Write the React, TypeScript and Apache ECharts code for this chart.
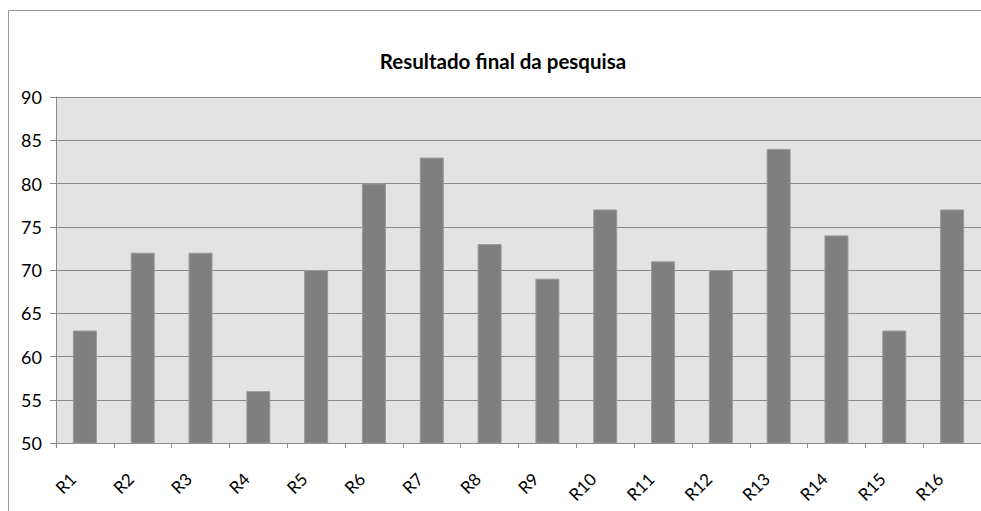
import React, { useEffect, useRef } from "react";
import * as echarts from "echarts";

const categories = ["R1", "R2", "R3", "R4", "R5", "R6", "R7", "R8", "R9", "R10", "R11", "R12", "R13", "R14", "R15", "R16"];
const values = [63, 72, 72, 56, 70, 80, 83, 73, 69, 77, 71, 70, 84, 74, 63, 77];
const titleText = "Resultado final da pesquisa";

export default function App() {
  const ref = useRef<HTMLDivElement>(null);
  useEffect(() => {
    if (!ref.current) return;
    const chart = echarts.init(ref.current, null, { renderer: "svg" });
    const font = "Lato, 'Open Sans', sans-serif";
    chart.setOption({
      animation: false,
      backgroundColor: "#ffffff",
      title: {
        text: titleText,
        left: 498,
        textAlign: "center",
        top: 45,
        textStyle: { fontFamily: font, fontSize: 20.5, fontWeight: "bold", color: "#000" },
      },
      graphic: [
        {
          type: "line",
          shape: { x1: 8.5, y1: 10.5, x2: 981, y2: 10.5 },
          style: { stroke: "#9a9a9a", lineWidth: 1 },
          silent: true,
        },
        {
          type: "line",
          shape: { x1: 8.5, y1: 10.5, x2: 8.5, y2: 511 },
          style: { stroke: "#9a9a9a", lineWidth: 1 },
          silent: true,
        },
      ],
      grid: {
        left: 56,
        top: 97,
        right: 0,
        bottom: 68,
        show: true,
        backgroundColor: "#e3e3e3",
        borderWidth: 0,
      },
      xAxis: {
        type: "category",
        data: categories,
        axisLine: { show: true, lineStyle: { color: "#8a8a8a", width: 1 } },
        axisTick: { show: true, alignWithLabel: false, length: 5, lineStyle: { color: "#8a8a8a" } },
        axisLabel: {
          rotate: 45,
          margin: 21,
          padding: [0, 17, 0, 0],
          fontFamily: font,
          fontSize: 17,
          color: "#000",
        },
      },
      yAxis: {
        type: "value",
        min: 50,
        max: 90,
        interval: 5,
        axisLine: { show: true, lineStyle: { color: "#8a8a8a", width: 1 } },
        axisTick: { show: true, length: 6, lineStyle: { color: "#8a8a8a" } },
        axisLabel: { fontFamily: font, fontSize: 18, color: "#000", margin: 14 },
        splitLine: { show: true, lineStyle: { color: "#8a8a8a", width: 1 } },
      },
      series: [
        {
          type: "bar",
          data: values,
          barWidth: "41.5%",
          itemStyle: { color: "#7f7f7f", borderColor: "#9a9a9a", borderWidth: 1 },
        },
      ],
    });
    return () => chart.dispose();
  }, []);
  return (
    <div
      ref={ref}
      style={{ position: "fixed", left: 0, top: 0, width: 981, height: 511 }}
    />
  );
}
